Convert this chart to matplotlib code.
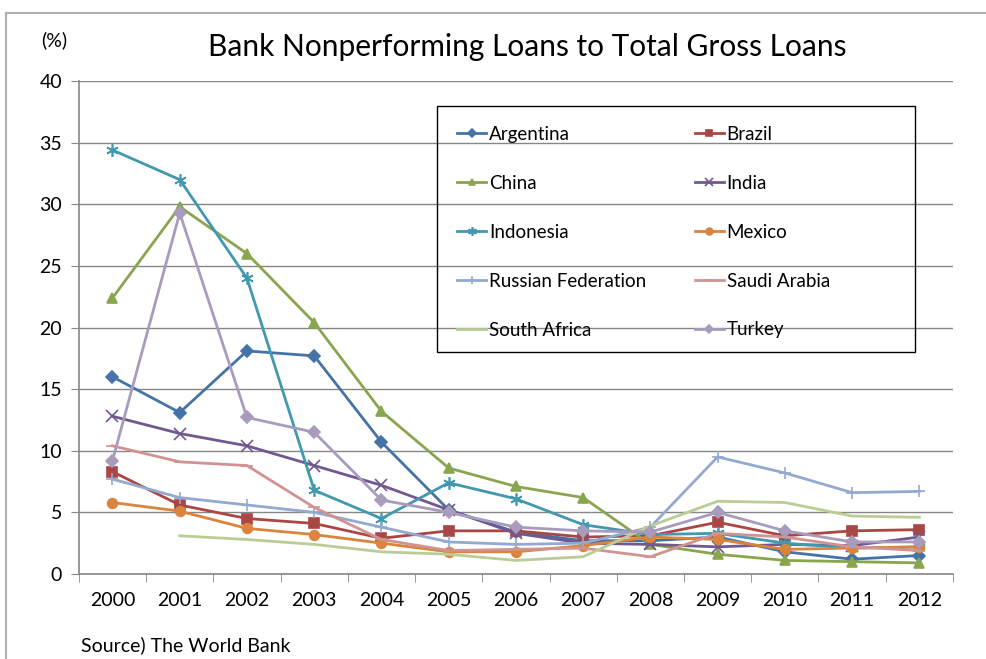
import matplotlib.pyplot as plt
import numpy as np
from matplotlib.patches import Rectangle

plt.rcParams['font.family'] = ['Lato', 'DejaVu Sans']

years = ['2000', '2001', '2002', '2003', '2004', '2005', '2006',
         '2007', '2008', '2009', '2010', '2011', '2012']

# NPL ratio (%)
argentina = [16.0, 13.1, 18.1, 17.7, 10.7, 5.2, 3.4, 2.7, 2.7, 3.0, 1.8, 1.2, 1.5]
brazil = [8.3, 5.6, 4.5, 4.1, 2.9, 3.5, 3.5, 3.0, 3.1, 4.2, 3.1, 3.5, 3.6]
china = [22.4, 29.8, 26.0, 20.4, 13.2, 8.6, 7.1, 6.2, 2.4, 1.6, 1.1, 1.0, 0.9]
india = [12.8, 11.4, 10.4, 8.8, 7.2, 5.2, 3.3, 2.5, 2.4, 2.2, 2.4, 2.3, 3.0]
indonesia = [34.4, 32.0, 24.0, 6.8, 4.5, 7.4, 6.1, 4.0, 3.2, 3.3, 2.5, 2.1, 2.2]
mexico = [5.8, 5.1, 3.7, 3.2, 2.5, 1.8, 1.8, 2.3, 3.0, 2.8, 2.0, 2.1, 2.2]
russia = [7.7, 6.2, 5.6, 5.0, 3.8, 2.6, 2.4, 2.5, 3.8, 9.5, 8.2, 6.6, 6.7]
saudi = [10.4, 9.1, 8.8, 5.4, 2.8, 1.9, 2.0, 2.1, 1.4, 3.3, 3.0, 2.2, 1.9]
south_africa = [np.nan, 3.1, 2.8, 2.4, 1.8, 1.6, 1.1, 1.4, 3.9, 5.9, 5.8, 4.7, 4.6]
turkey = [9.2, 29.3, 12.7, 11.5, 6.0, 5.0, 3.8, 3.5, 3.4, 5.0, 3.5, 2.6, 2.6]

series = [
    ('Argentina', argentina, '#4572A7', 'D', 6),
    ('Brazil', brazil, '#AA4643', 's', 7),
    ('China', china, '#89A54E', '^', 7),
    ('India', india, '#71588F', 'x', 8),
    ('Indonesia', indonesia, '#4198AF', (6, 2, 0), 9),
    ('Mexico', mexico, '#DB843D', 'o', 7),
    ('Russian Federation', russia, '#93A9CF', '+', 9),
    ('Saudi Arabia', saudi, '#D19392', '_', 8),
    ('South Africa', south_africa, '#B9CD96', None, 0),
    ('Turkey', turkey, '#A99BBD', 'D', 6),
]

fig = plt.figure(figsize=(9.86, 6.59), dpi=100)
ax = fig.add_axes([0.080, 0.129, 0.8865, 0.748])

x = np.arange(len(years))
handles = []
for name, vals, col, mk, ms in series:
    ln, = ax.plot(x, vals, color=col, lw=2.0, marker=mk, markersize=ms,
                  markeredgewidth=1.2, label=name)
    handles.append(ln)

ax.set_xlim(-0.5, len(years) - 0.5)
ax.set_ylim(0, 40)
ax.set_yticks(range(0, 41, 5))
ax.set_xticks(x)
ax.set_xticklabels(years)
ax.set_xticks(np.arange(-0.5, len(years), 1), minor=True)
ax.tick_params(axis='x', which='major', length=0, labelsize=14, pad=13)
ax.tick_params(axis='x', which='minor', length=6, color='#868686')
ax.tick_params(axis='y', length=6, color='#868686', labelsize=14, pad=6)
ax.yaxis.grid(True, color='#868686', lw=1.0)
ax.set_axisbelow(True)
for s in ['top', 'right']:
    ax.spines[s].set_visible(False)
for s in ['left', 'bottom']:
    ax.spines[s].set_color('#868686')
    ax.spines[s].set_linewidth(1.2)

# legend is filled row by row (Argentina, Brazil / China, India ...)
order = [0, 2, 4, 6, 8, 1, 3, 5, 7, 9]
leg = ax.legend([handles[i] for i in order], [series[i][0] for i in order],
                ncol=2, loc='upper left', bbox_to_anchor=(457 / 986, 1 - 126 / 659),
                bbox_transform=fig.transFigure, fontsize=13.5, frameon=False,
                handlelength=1.55, handletextpad=0.15, labelspacing=1.7,
                columnspacing=2.6, borderpad=0, borderaxespad=0, markerscale=0.7)
fig.patches.append(Rectangle((437 / 986, 1 - 352 / 659), 478 / 986, 246 / 659,
                             transform=fig.transFigure, fill=False,
                             edgecolor='#000000', lw=1.0, zorder=5))

fig.text(0.535, 0.928, 'Bank Nonperforming Loans to Total Gross Loans',
         ha='center', va='center', fontsize=21.5)
fig.text(0.042, 0.939, '(%)', ha='left', va='center', fontsize=14)
fig.text(0.082, 0.021, 'Source) The World Bank', ha='left', va='center', fontsize=14)

fig.patches.append(Rectangle((6 / 986, -0.1), 1.2, 1.1 - 13 / 659,
                             transform=fig.transFigure, fill=False,
                             edgecolor='#b0b0b0', lw=1.5))

fig.savefig('out.png', dpi=100)
